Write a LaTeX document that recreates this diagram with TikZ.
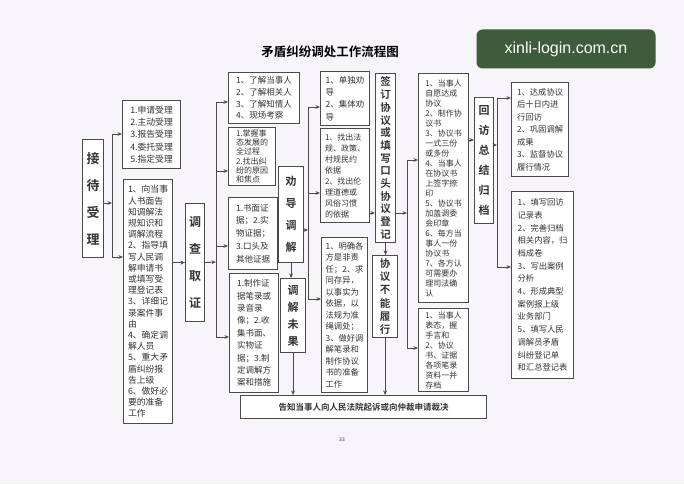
\documentclass[tikz,border=0pt]{standalone}
\usepackage{fontspec}
\setmainfont{Noto Sans CJK SC}[BoldFont={Noto Sans CJK SC Bold}]
\newfontfamily\wmfont{Liberation Sans}
\usetikzlibrary{arrows.meta}
\definecolor{bg}{HTML}{F7F5F9}
\definecolor{linec}{HTML}{4A4A4A}
\definecolor{txtc}{HTML}{333333}
\definecolor{wmg}{HTML}{3E5B3B}
\begin{document}
\begin{tikzpicture}[x=1pt,y=-1pt,
  box/.style={draw=linec, line width=1.1pt, fill=white, inner sep=0pt, anchor=north west, align=left, text=txtc},
  sz/.style 2 args={minimum width=#1pt, minimum height=#2pt},
  fs/.style 2 args={font={\fontsize{#1}{#2}\selectfont}},
  vb/.style 2 args={box, align=center, font={\bfseries\fontsize{#1}{#2}\selectfont}},
  arr/.style={draw=linec, line width=0.9pt, -{Stealth[length=4.5pt,width=3.8pt]}},
  ln/.style={draw=linec, line width=0.9pt}]
\fill[bg] (0,0) rectangle (684,484);
\useasboundingbox (0,0) rectangle (684,484);

% title and watermark
\node[font={\bfseries\fontsize{12.5}{14}\selectfont}, text=black] (title) at (330,52) {矛盾纠纷调处工作流程图};
\node[fill=wmg, rounded corners=6pt, minimum width=179pt, minimum height=39pt, text=white,
      font={\wmfont\fontsize{16}{18}\selectfont}] (wm) at (566,49) {xinli-login.com.cn};

% column 1
\node[vb={13}{27}, sz={21}{118}] (jd) at (82,139) {接\\待\\受\\理};
\node[box, sz={58}{68}, fs={8.8}{12.3}] (sl) at (122,100) {1.申请受理\\2.主动受理\\3.报告受理\\4.委托受理\\5.指定受理};
\node[box, sz={49}{244}, fs={8.8}{11.2}] (lb) at (123,179) {1、向当事\\人书面告\\知调解法\\规知识和\\调解流程\\2、指导填\\写人民调\\解申请书\\或填写受\\理登记表\\3、详细记\\录案件事\\由\\4、确定调\\解人员\\5、重大矛\\盾纠纷报\\告上级\\6、做好必\\要的准备\\工作};
\node[vb={12}{27}, sz={19}{118}] (dc) at (185,203) {调\\查\\取\\证};

% column 2
\node[box, sz={71}{51}, fs={8.5}{11.8}] (lj) at (228,72) {1、了解当事人\\2、了解相关人\\3、了解知情人\\4、现场考察};
\node[box, sz={47}{58}, fs={8}{9.2}] (zw) at (228,127) {1.掌握事\\态发展的\\全过程\\2.找出纠\\纷的原因\\和焦点};
\node[box, sz={49}{72}, fs={8.5}{12.8}] (sm) at (228,197) {1.书面证\\据；2.实\\物证据；\\3.口头及\\其他证据};
\node[box, sz={49}{119}, fs={8.5}{12.4}] (zz) at (229,273) {1.制作证\\据笔录或\\录音录\\像；2.收\\集书面、\\实物证\\据；3.制\\定调解方\\案和措施};
\node[vb={11}{22}, sz={25}{96}] (qd) at (278,166) {劝\\导\\调\\解};
\node[vb={11}{17}, sz={25}{74}] (wg) at (280,278) {调\\解\\未\\果};

% column 3
\node[box, sz={49}{54}, fs={8.5}{12.3}] (dd) at (320,71) {1、单独劝\\导\\2、集体劝\\导};
\node[box, sz={49}{94}, fs={8}{11}] (fg) at (320,128) {1、找出法\\规、政策、\\村规民约\\依据\\2、找出伦\\理道德或\\风俗习惯\\的依据};
\node[box, sz={46}{155}, fs={8.3}{11.5}] (mq) at (321,237) {1、明确各\\方是非责\\任；2、求\\同存异，\\以事实为\\依据，以\\法规为准\\绳调处；\\3、做好调\\解笔录和\\制作协议\\书的准备\\工作};
\node[vb={10.5}{12.7}, sz={20}{169}] (qy) at (375,73) {签\\订\\协\\议\\或\\填\\写\\口\\头\\协\\议\\登\\记};
\node[vb={10.5}{13.2}, sz={25}{82}] (bn) at (372,255) {协\\议\\不\\能\\履\\行};

% column 4
\node[box, sz={50}{229}, fs={8}{10}] (xy) at (418,73) {1、当事人\\自愿达成\\协议\\2、制作协\\议书\\3、协议书\\一式三份\\或多份\\4、当事人\\在协议书\\上签字捺\\印\\5、协议书\\加盖调委\\会印章\\6、每方当\\事人一份\\协议书\\7、各方认\\可需要办\\理司法确\\认};
\node[box, sz={50}{83}, fs={8}{10}] (bt) at (418,308) {1、当事人\\表态，握\\手言和\\2、协议\\书、证据\\各项笔录\\资料一并\\存档};
\node[vb={11}{20}, sz={19}{126}] (hf) at (474,97) {回\\访\\总\\结\\归\\档};

% column 5
\node[box, sz={57}{94}, fs={8.3}{12.5}] (dc2) at (511,82) {1、达成协议\\后十日内进\\行回访\\2、巩固调解\\成果\\3、监督协议\\履行情况};
\node[box, sz={62}{187}, fs={8.3}{12.7}] (tx) at (511,191) {1、填写回访\\记录表\\2、完善归档\\相关内容，归\\档成卷\\3、写出案例\\分析\\4、形成典型\\案例报上级\\业务部门\\5、填写人民\\调解员矛盾\\纠纷登记单\\和汇总登记表};

% bottom
\node[box, anchor=north west, sz={246}{23}, font={\bfseries\fontsize{8.5}{10}\selectfont}, align=center] (gz) at (240,395) {告知当事人向人民法院起诉或向仲裁申请裁决};
\node[font={\fontsize{5}{6}\selectfont}, text=txtc] (pg) at (342,440) {33};

% connectors: column 1
\coordinate (a0) at (112,203);
\coordinate (a1) at (112,134);
\coordinate (a2) at (112,257);
\draw[arr] (jd.east |- a0) -- (a0);
\draw[ln] (a1) -- (a2);
\draw[arr] (a1) -- (sl.west |- a1);
\draw[arr] (a2) -- (lb.west |- a2);
\draw[arr] (lb.east |- dc.west) -- (dc.west);

% column 2 bus
\coordinate (c0) at (216,262);
\coordinate (c1) at (216,102);
\coordinate (c2) at (216,171);
\coordinate (c3) at (216,246);
\coordinate (c4) at (216,337);
\draw[arr] (dc.east) -- (c0);
\draw[ln] (c1) -- (c4);
\draw[arr] (c1) -- (lj.west |- c1);
\draw[arr] (c2) -- (zw.west |- c2);
\draw[arr] (c3) -- (sm.west |- c3);
\draw[arr] (c4) -- (zz.west |- c4);

% column 3 bus
\coordinate (d0) at (308,230);
\coordinate (d1) at (308,107);
\coordinate (d2) at (308,193);
\coordinate (d3) at (308,299);
\draw[arr] (qd.east |- d0) -- (d0);
\draw[ln] (d1) -- (d3);
\draw[arr] (d1) -- (dd.west |- d1);
\draw[arr] (d2) -- (fg.west |- d2);
\draw[arr] (d3) -- (mq.west |- d3);
\draw[arr] (qd.south) -- (qd.south |- wg.north);
\draw[arr] (wg.south) -- (wg.south |- gz.north);

% column 4 bus
\coordinate (e0) at (0,213);
\draw[arr] (fg.east |- e0) -- (qy.west |- e0);
\coordinate (f0) at (407,213);
\coordinate (f1) at (407,160);
\coordinate (f2) at (407,348);
\draw[arr] (qy.east |- f0) -- (f0);
\draw[ln] (f1) -- (f2);
\draw[arr] (f1) -- (xy.west |- f1);
\draw[arr] (f2) -- (bt.west |- f2);
\draw[arr] (qy.south) -- (qy.south |- bn.north);
\draw[arr] (bn.south) -- (bn.south |- gz.north);

% column 5 bus
\coordinate (g0) at (0,140);
\draw[arr] (xy.east |- g0) -- (hf.west |- g0);
\coordinate (h0) at (497,145);
\coordinate (h1) at (497,98);
\coordinate (h2) at (497,267);
\draw[arr] (hf.east |- h0) -- (h0);
\draw[ln] (h1) -- (h2);
\draw[arr] (h1) -- (dc2.west |- h1);
\draw[arr] (h2) -- (tx.west |- h2);
\end{tikzpicture}
\end{document}
